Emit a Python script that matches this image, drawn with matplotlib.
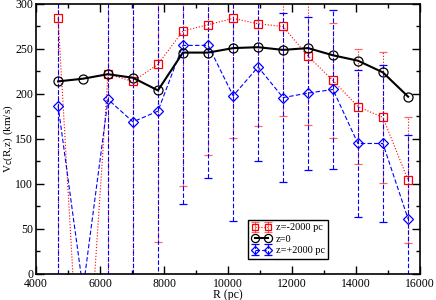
import matplotlib.pyplot as plt
from matplotlib.ticker import MultipleLocator

plt.rcParams['font.family'] = ['Liberation Serif', 'DejaVu Serif']

R = [4690, 5470, 6250, 7030, 7810, 8590, 9380, 10160, 10940, 11720, 12500, 13280, 14060, 14840, 15630]
vc_m2000 = [284, -195, 222, 214, 233, 270, 277, 284, 278, 275, 242, 215, 186, 174, 104]
err_m2000 = [300, 5, 240, 230, 197, 172, 145, 133, 114, 99, 76, 64, 64, 73, 70]
vc_0 = [214, 217, 222, 218, 204, 246, 246, 251, 252, 249, 251, 243, 237, 224, 197]
vc_p2000 = [187, -17, 194, 169, 181, 254, 254, 198, 230, 196, 201, 205, 145, 145, 61]
err_p2000 = [220, 5, 210, 200, 200, 176, 147, 139, 105, 94, 85, 88, 82, 87, 93]

fig = plt.figure(figsize=(4.36, 3.0), dpi=100)
ax = fig.add_axes([0.0826, 0.0867, 0.8807, 0.9])

# z=-2000
eb = ax.errorbar(R, vc_m2000, yerr=err_m2000, color='red', ls=':', lw=0.8,
                 marker='s', ms=5.5, mfc='none', mec='red', mew=0.9,
                 capsize=3, elinewidth=0.8, capthick=0.8, label='z=-2000 pc')
eb[2][0].set_linestyle(':')
for c in eb[1]:
    c.set_alpha(0.6)

# z=+2000
eb2 = ax.errorbar(R, vc_p2000, yerr=err_p2000, color='blue', ls='--', lw=0.8,
                  dashes=(4, 2), marker='D', ms=5, mfc='none', mec='blue', mew=0.9,
                  capsize=3, elinewidth=0.8, capthick=0.9, label='z=+2000 pc')
eb2[2][0].set_linestyle((0, (4, 2)))

# z=0
ax.plot(R, vc_0, color='black', lw=1.5, marker='o', ms=6.5, mfc='none',
        mec='black', mew=0.9, label='z=0', zorder=5)

ax.set_xlim(4000, 16000)
ax.set_ylim(0, 300)
ax.xaxis.set_major_locator(MultipleLocator(2000))
ax.xaxis.set_minor_locator(MultipleLocator(1000))
ax.yaxis.set_major_locator(MultipleLocator(50))
ax.yaxis.set_minor_locator(MultipleLocator(25))
ax.tick_params(which='both', direction='in', top=True, right=True, labelsize=8.5)
ax.tick_params(axis='x', pad=3)
ax.tick_params(axis='y', pad=2)
ax.tick_params(which='major', length=6, width=1)
ax.tick_params(which='minor', length=3, width=1)
for s in ax.spines.values():
    s.set_linewidth(1.2)

ax.set_xlabel('R (pc)', fontsize=8.5)
ax.xaxis.set_label_coords(0.5, -0.055)
ax.set_ylabel(r'V$_{\rm c}$(R,z) (km/s)', fontsize=8)
ax.yaxis.set_label_coords(-0.056, 0.5)

h, l = ax.get_legend_handles_labels()
order = [l.index('z=-2000 pc'), l.index('z=0'), l.index('z=+2000 pc')]
leg = ax.legend([h[i] for i in order], [l[i] for i in order], loc='lower left',
                bbox_to_anchor=(0.552, 0.056), borderaxespad=0, fontsize=7.5,
                numpoints=2, markerscale=0.9, fancybox=False, framealpha=1,
                edgecolor='black', handlelength=1.9, borderpad=0.35,
                labelspacing=0.2, handletextpad=0.4)
leg.get_frame().set_linewidth(1)

fig.savefig('out.png', dpi=100)
